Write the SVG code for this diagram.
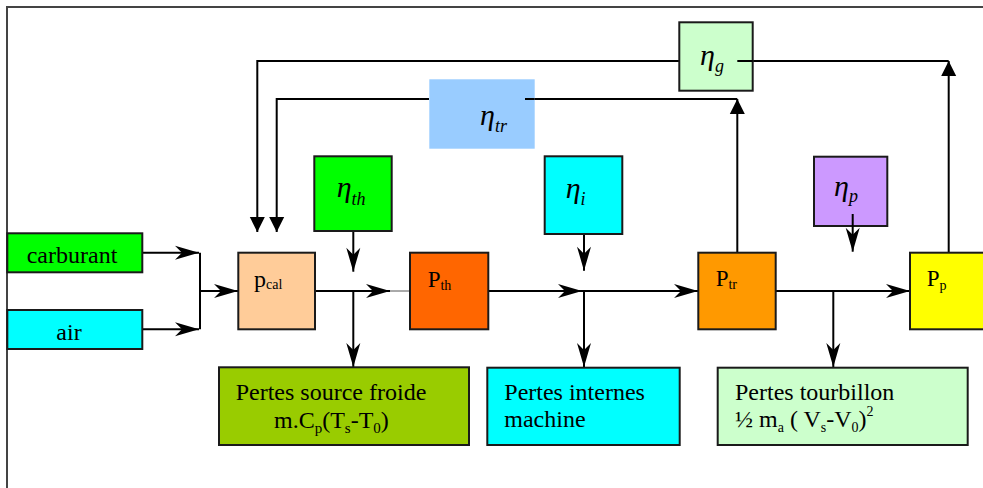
<svg xmlns="http://www.w3.org/2000/svg" width="983" height="488" viewBox="0 0 983 488">
<style>
.box{stroke:#1a1a1a;stroke-width:2}
.ln{fill:none;stroke:#000;stroke-width:2}
.thin{fill:none;stroke:#555;stroke-width:1}
text{font-family:'Liberation Serif','DejaVu Serif',serif;fill:#000}
.eta{font-style:italic;font-size:30px}
.sub{font-size:18px}
</style>
<defs>
<marker id="st" markerUnits="userSpaceOnUse" markerWidth="26" markerHeight="16" viewBox="-25 -8 26 16" refX="0" refY="0" orient="auto">
<path d="M0,0 L-24,-7 L-17,0 L-24,7 Z" fill="#000"/>
</marker>
<marker id="tri" markerUnits="userSpaceOnUse" markerWidth="16" markerHeight="16" viewBox="-16 -8 16 16" refX="0" refY="0" orient="auto">
<path d="M0,0 L-15,-7.5 L-15,7.5 Z" fill="#000"/>
</marker>
</defs>
<rect width="983" height="488" fill="#fff"/>
<path d="M7,488 V7 H983" fill="none" stroke="#444" stroke-width="2"/>

<g id="connectors">
<line class="ln" x1="142" y1="252.7" x2="199" y2="252.7" marker-end="url(#st)"/>
<line class="ln" x1="142" y1="329.3" x2="199" y2="329.3" marker-end="url(#st)"/>
<line class="ln" x1="200" y1="252.7" x2="200" y2="329.3"/>
<line class="ln" x1="200" y1="291" x2="238" y2="291" marker-end="url(#st)"/>
<line class="ln" x1="315" y1="291" x2="390" y2="291" marker-end="url(#st)"/>
<line class="thin" x1="390" y1="291" x2="410" y2="291"/>
<line class="ln" x1="353.3" y1="231" x2="353.3" y2="271.7" marker-end="url(#st)"/>
<line class="ln" x1="353.3" y1="291" x2="353.3" y2="367" marker-end="url(#st)"/>
<line class="ln" x1="488" y1="291" x2="582" y2="291" marker-end="url(#st)"/>
<line class="ln" x1="582" y1="291" x2="698" y2="291" marker-end="url(#st)"/>
<line class="ln" x1="584" y1="234" x2="584" y2="270.7" marker-end="url(#st)"/>
<line class="ln" x1="584" y1="291" x2="584" y2="367" marker-end="url(#st)"/>
<line class="ln" x1="776" y1="291" x2="910" y2="291" marker-end="url(#st)"/>
<line class="ln" x1="833.3" y1="291" x2="833.3" y2="367" marker-end="url(#st)"/>
<line class="ln" x1="852.7" y1="214" x2="852.7" y2="251.7" marker-end="url(#st)"/>
<line class="ln" x1="737.3" y1="252.7" x2="737.3" y2="99" marker-end="url(#tri)"/>
<line class="ln" x1="737.3" y1="99" x2="525" y2="99"/>
<polyline class="ln" points="429,99 276.7,99 276.7,232" marker-end="url(#tri)"/>
<line class="ln" x1="737.3" y1="61" x2="948.7" y2="61"/>
<line class="ln" x1="948.7" y1="252.7" x2="948.7" y2="61" marker-end="url(#tri)"/>
<polyline class="ln" points="679.3,61 257.3,61 257.3,232" marker-end="url(#tri)"/>
</g>

<g id="carburant">
<rect class="box" x="7.3" y="233.3" width="135" height="39" fill="#00ff00"/>
<text x="72" y="263" font-size="24" text-anchor="middle">carburant</text>
</g>
<g id="air">
<rect class="box" x="7.3" y="310" width="135" height="39" fill="#00ffff"/>
<text x="69" y="340" font-size="24" text-anchor="middle">air</text>
</g>
<g id="pcal">
<rect class="box" x="238.3" y="252.7" width="76.7" height="76.6" fill="#ffcc99"/>
<text x="254" y="286.7" font-size="24">p<tspan font-size="14" dy="2.5">cal</tspan></text>
</g>
<g id="eta_th">
<rect class="box" x="314.3" y="156.3" width="77.4" height="74.7" fill="#00ff00"/>
<text class="eta" x="336.7" y="197">η<tspan class="sub" dy="8">th</tspan></text>
</g>
<g id="Pth">
<rect class="box" x="410" y="252.7" width="78.3" height="76.6" fill="#ff6600"/>
<text x="427.7" y="286.7" font-size="23">P<tspan font-size="14" dy="3.5">th</tspan></text>
</g>
<g id="eta_tr">
<rect x="429.3" y="79.3" width="105.4" height="69.4" fill="#99ccff"/>
<line class="ln" x1="525" y1="99" x2="534.7" y2="99"/>
<text class="eta" x="480" y="125">η<tspan class="sub" dy="7">tr</tspan></text>
</g>
<g id="eta_i">
<rect class="box" x="544.7" y="156.3" width="77.6" height="77.7" fill="#00ffff"/>
<text class="eta" x="565.7" y="198">η<tspan class="sub" dy="7">i</tspan></text>
</g>
<g id="eta_g">
<rect class="box" x="679.3" y="22.3" width="73.4" height="68.4" fill="#ccffcc"/>
<line class="ln" x1="737.3" y1="61" x2="752.7" y2="61"/>
<text class="eta" x="700" y="65">η<tspan class="sub" dy="7">g</tspan></text>
</g>
<g id="Ptr">
<rect class="box" x="698.3" y="252.7" width="77.4" height="76.6" fill="#ff9900"/>
<text x="715.7" y="285.7" font-size="23">P<tspan font-size="14" dy="3.5">tr</tspan></text>
</g>
<g id="eta_p">
<rect class="box" x="814" y="156.7" width="73.3" height="69.3" fill="#cc99ff"/>
<line class="ln" x1="852.7" y1="214" x2="852.7" y2="227"/>
<text class="eta" x="834" y="196">η<tspan class="sub" dy="6">p</tspan></text>
</g>
<g id="Pp">
<rect class="box" x="910" y="252.7" width="80" height="76.6" fill="#ffff00"/>
<text x="926.7" y="286" font-size="23">P<tspan font-size="14" dy="3.5">p</tspan></text>
</g>
<g id="pertes_froide">
<rect class="box" x="219" y="367.3" width="250" height="77.7" fill="#99cc00"/>
<text x="235.7" y="400" font-size="24">Pertes source froide</text>
<text x="274" y="428" font-size="24">m.C<tspan font-size="15" dy="5">p</tspan><tspan dy="-5">(T</tspan><tspan font-size="15" dy="5">s</tspan><tspan dy="-5">-T</tspan><tspan font-size="15" dy="5">0</tspan><tspan dy="-5">)</tspan></text>
</g>
<g id="pertes_internes">
<rect class="box" x="487.3" y="367.7" width="192.4" height="77.3" fill="#00ffff"/>
<text x="504.3" y="399.5" font-size="24">Pertes internes</text>
<text x="504.3" y="427" font-size="24">machine</text>
</g>
<g id="pertes_tourbillon">
<rect class="box" x="717.7" y="367.7" width="250" height="77.3" fill="#ccffcc"/>
<text x="735" y="399.5" font-size="24">Pertes tourbillon</text>
<text x="735" y="427" font-size="24">½ m<tspan font-size="14" dy="5">a</tspan><tspan dy="-5"> ( V</tspan><tspan font-size="14" dy="5">s</tspan><tspan dy="-5">-V</tspan><tspan font-size="14" dy="5">0</tspan><tspan dy="-5">)</tspan><tspan font-size="14" dy="-11">2</tspan></text>
</g>
</svg>
